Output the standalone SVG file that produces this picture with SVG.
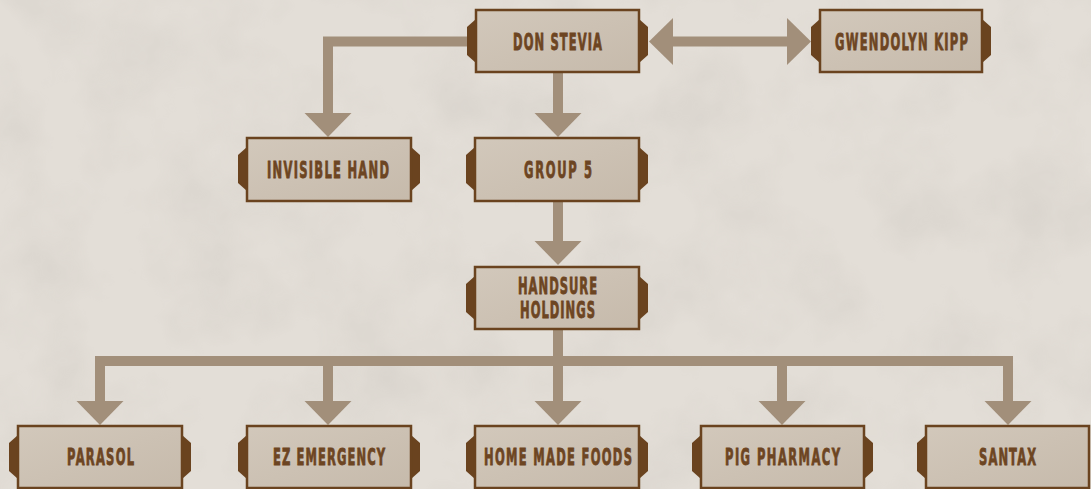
<svg xmlns="http://www.w3.org/2000/svg" width="1091" height="489" viewBox="0 0 1091 489">
<defs>
  <filter id="tex" x="0" y="0" width="100%" height="100%">
    <feTurbulence type="fractalNoise" baseFrequency="0.012" numOctaves="4" seed="7"/>
    <feColorMatrix type="matrix" values="0 0 0 0 0.55  0 0 0 0 0.52  0 0 0 0 0.48  0 0 0 1.1 -0.45"/>
  </filter>
  <linearGradient id="boxfill" x1="0" y1="0" x2="1" y2="1">
    <stop offset="0" stop-color="#d2c8bb"/>
    <stop offset="1" stop-color="#c6baab"/>
  </linearGradient>
  <marker id="ah" markerUnits="userSpaceOnUse" markerWidth="30" markerHeight="50" viewBox="0 -25 30 50" refX="0" refY="0" orient="auto-start-reverse" overflow="visible">
    <path d="M0,-23.5 L24,0 L0,23.5 Z" fill="#a28f7a"/>
  </marker>
</defs>
<style>
  .box { fill: url(#boxfill); stroke: #6a431f; stroke-width: 2.5; }
  .tab { fill: #6a431f; }
  .lbl { font-family: "DejaVu Sans", "Liberation Sans", sans-serif; font-weight: bold; font-size: 23px; fill: #6d4522; stroke: #6d4522; stroke-width: 0.9; text-anchor: middle; }
  .con { fill: none; stroke: #a28f7a; stroke-width: 10; stroke-linejoin: miter; }
</style>
<rect x="0" y="0" width="1091" height="489" fill="#e3ded7"/>
<rect x="0" y="0" width="1091" height="489" filter="url(#tex)" opacity="0.5"/>

<g id="connectors">
  <path class="con" d="M476,41.5 H328 V113" marker-end="url(#ah)"/>
  <path class="con" d="M558,73 V113" marker-end="url(#ah)"/>
  <path class="con" d="M673,41.5 H787" marker-start="url(#ah)" marker-end="url(#ah)"/>
  <path class="con" d="M558,202 V241" marker-end="url(#ah)"/>
  <path class="con" d="M100,401 V361 H1008 V401" marker-start="url(#ah)" marker-end="url(#ah)"/>
  <path class="con" d="M558,330 V401" marker-end="url(#ah)"/>
  <path class="con" d="M328,361 V401" marker-end="url(#ah)"/>
  <path class="con" d="M782,361 V401" marker-end="url(#ah)"/>
</g>

<g id="node-don-stevia">
  <polygon class="tab" points="476,19 467,27 467,55 476,63"/>
  <polygon class="tab" points="639,19 648,27 648,55 639,63"/>
  <rect class="box" x="476" y="10" width="163" height="62"/>
  <text class="lbl" transform="translate(557.5,50) scale(0.5,1)" textLength="178" lengthAdjust="spacing">DON STEVIA</text>
</g>
<g id="node-gwendolyn-kipp">
  <polygon class="tab" points="820,19 811,27 811,55 820,63"/>
  <polygon class="tab" points="982,19 991,27 991,55 982,63"/>
  <rect class="box" x="820" y="10" width="162" height="62"/>
  <text class="lbl" transform="translate(901.5,50) scale(0.5,1)" textLength="266" lengthAdjust="spacing">GWENDOLYN KIPP</text>
</g>
<g id="node-invisible-hand">
  <polygon class="tab" points="247,147 238,155 238,183 247,191"/>
  <polygon class="tab" points="411,147 420,155 420,183 411,191"/>
  <rect class="box" x="247" y="138" width="164" height="63"/>
  <text class="lbl" transform="translate(328,178) scale(0.5,1)" textLength="244" lengthAdjust="spacing">INVISIBLE HAND</text>
</g>
<g id="node-group-5">
  <polygon class="tab" points="475,147 466,155 466,183 475,191"/>
  <polygon class="tab" points="639,147 648,155 648,183 639,191"/>
  <rect class="box" x="475" y="138" width="164" height="63"/>
  <text class="lbl" transform="translate(558,178) scale(0.5,1)" textLength="136" lengthAdjust="spacing">GROUP 5</text>
</g>
<g id="node-handsure-holdings">
  <polygon class="tab" points="475,276 466,284 466,312 475,320"/>
  <polygon class="tab" points="639,276 648,284 648,312 639,320"/>
  <rect class="box" x="475" y="267" width="164" height="62"/>
  <text class="lbl" transform="translate(557.5,294) scale(0.5,1)" textLength="158" lengthAdjust="spacing">HANDSURE</text>
  <text class="lbl" transform="translate(557.5,318) scale(0.5,1)" textLength="150" lengthAdjust="spacing">HOLDINGS</text>
</g>
<g id="node-parasol">
  <polygon class="tab" points="18,435 9,443 9,471 18,479"/>
  <polygon class="tab" points="182,435 191,443 191,471 182,479"/>
  <rect class="box" x="18" y="426" width="164" height="62"/>
  <text class="lbl" transform="translate(100.5,465) scale(0.5,1)" textLength="134" lengthAdjust="spacing">PARASOL</text>
</g>
<g id="node-ez-emergency">
  <polygon class="tab" points="247,435 238,443 238,471 247,479"/>
  <polygon class="tab" points="411,435 420,443 420,471 411,479"/>
  <rect class="box" x="247" y="426" width="164" height="62"/>
  <text class="lbl" transform="translate(329,465) scale(0.5,1)" textLength="224" lengthAdjust="spacing">EZ EMERGENCY</text>
</g>
<g id="node-home-made-foods">
  <polygon class="tab" points="475,435 466,443 466,471 475,479"/>
  <polygon class="tab" points="639,435 648,443 648,471 639,479"/>
  <rect class="box" x="475" y="426" width="164" height="62"/>
  <text class="lbl" transform="translate(558,465) scale(0.5,1)" textLength="296" lengthAdjust="spacing">HOME MADE FOODS</text>
</g>
<g id="node-pig-pharmacy">
  <polygon class="tab" points="701,435 692,443 692,471 701,479"/>
  <polygon class="tab" points="864,435 873,443 873,471 864,479"/>
  <rect class="box" x="701" y="426" width="163" height="62"/>
  <text class="lbl" transform="translate(782.5,465) scale(0.5,1)" textLength="230" lengthAdjust="spacing">PIG PHARMACY</text>
</g>
<g id="node-santax">
  <polygon class="tab" points="926,435 917,443 917,471 926,479"/>
  <rect class="box" x="926" y="426" width="163" height="62"/>
  <text class="lbl" transform="translate(1007.5,465) scale(0.5,1)" textLength="114" lengthAdjust="spacing">SANTAX</text>
</g>
</svg>
